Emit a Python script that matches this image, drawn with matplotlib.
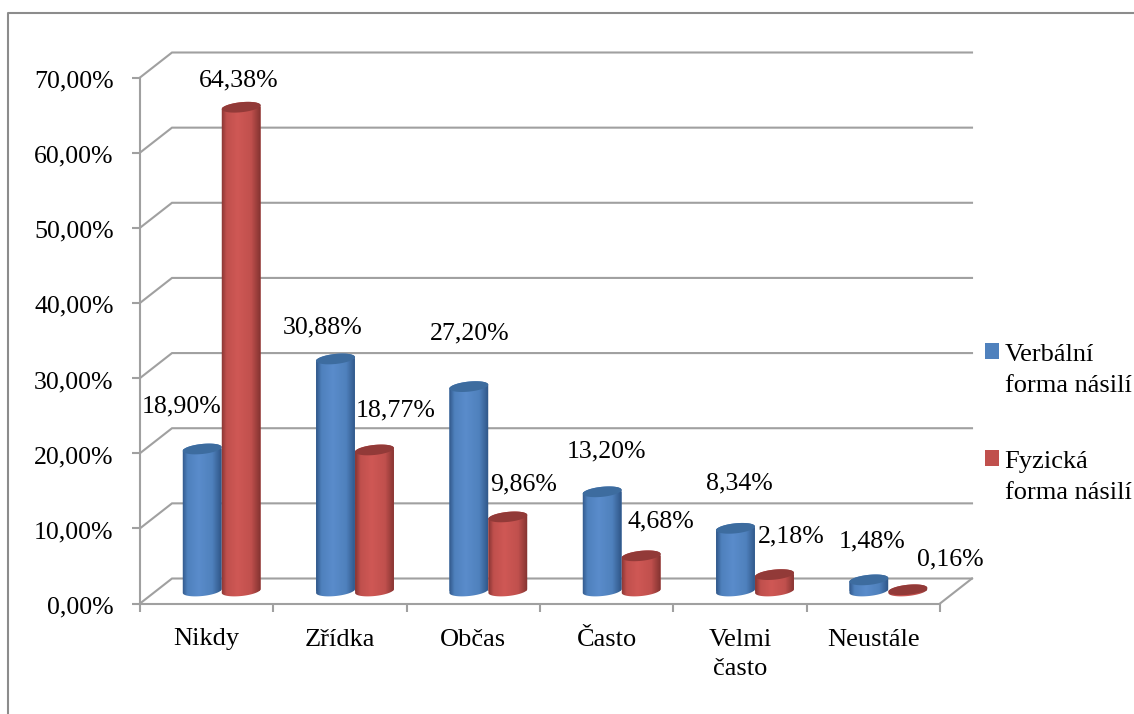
import numpy as np
import matplotlib.pyplot as plt
from matplotlib.colors import LinearSegmentedColormap
from matplotlib.lines import Line2D
from matplotlib.patches import Polygon
from matplotlib.transforms import ScaledTranslation

FONT_SIZE = 18.6
plt.rcParams["font.family"] = ["Liberation Serif", "DejaVu Serif"]
plt.rcParams["font.size"] = FONT_SIZE

categories = ["Nikdy", "Zřídka", "Občas", "Často", "Velmi\nčasto", "Neustále"]
verbal_values = [18.90, 30.88, 27.20, 13.20, 8.34, 1.48]
physical_values = [64.38, 18.77, 9.86, 4.68, 2.18, 0.16]
series_names = ["Verbální\nforma násilí", "Fyzická\nforma násilí"]
y_ticks = [0, 10, 20, 30, 40, 50, 60, 70]

# label shift from the top of each cylinder, in pixels
verbal_shift = [(-21, 43), (-13, 32), (1, 53), (4, 40), (4, 45), (3, 38)]
physical_shift = [(-2, 27), (21, 40), (16, 32), (20, 34), (17, 38), (42, 30)]

W, H = 1134, 714
AX_LEFT, AX_BOTTOM, AX_W, AX_H = 140, 603.5, 800, 526
GRID = "#a0a0a0"
LW = 1.5

fig = plt.figure(figsize=(W / 100, H / 100), dpi=100)
ax = fig.add_axes([AX_LEFT / W, (H - AX_BOTTOM) / H, AX_W / W, AX_H / H])
ax.set_xlim(0, len(categories))
ax.set_ylim(0, 70)

px_x = AX_W / len(categories)
px_y = AX_H / 70
depth_x = 32 / px_x
depth_y = 25 / px_y
bar_w = 39 / px_x
rx, ry, tilt = 19.5, 5.0, np.radians(6)


def pct(v):
    return "{:.2f}%".format(v).replace(".", ",")


def ellipse(cx, cy, t):
    ex = rx * np.cos(t) * np.cos(tilt) - ry * np.sin(t) * np.sin(tilt)
    ey = rx * np.cos(t) * np.sin(tilt) + ry * np.sin(t) * np.cos(tilt)
    return np.column_stack([cx + ex / px_x, cy + ey / px_y])


def draw_series(values, offset, color, dark, bright, cap, name, z):
    xs = np.arange(len(values)) + 0.5 + depth_x / 2 + offset - 1 / px_x
    base_y = depth_y / 2
    cmap = LinearSegmentedColormap.from_list(
        "cyl", [(0, dark), (0.15, color), (0.42, bright), (0.75, color), (1, dark)])
    bars = ax.bar(xs, values, bar_w, bottom=base_y, color=color, label=name, zorder=z)
    for bar, x, v in zip(bars, xs, values):
        top_y = base_y + v
        lower = ellipse(x, base_y, np.linspace(np.pi, 2 * np.pi, 40))
        upper = ellipse(x, top_y, np.linspace(0, np.pi, 40))
        body = Polygon(np.vstack([lower, upper]), closed=True, transform=ax.transData)
        bar.set_clip_path(body)
        img = ax.imshow(np.linspace(0, 1, 64)[None, :], cmap=cmap, aspect="auto",
                        interpolation="bilinear", zorder=z + 0.1,
                        extent=(x - bar_w / 2 - 0.01, x + bar_w / 2 + 0.01,
                                base_y - 2, top_y + 2))
        img.set_clip_path(body)
        ax.add_patch(Polygon(ellipse(x, top_y, np.linspace(0, 2 * np.pi, 80)), closed=True,
                             facecolor=cap, edgecolor="none", zorder=z + 0.2))
    return xs


# back wall, left wall and floor
n = len(categories)
for v in y_ticks:
    ax.plot([0, depth_x, n + depth_x], [v, v + depth_y, v + depth_y], color=GRID,
            lw=LW, clip_on=False, zorder=1, solid_joinstyle="miter")
ax.plot([n, n + depth_x], [0, depth_y], color=GRID, lw=LW, clip_on=False, zorder=1)

x_verbal = draw_series(verbal_values, -bar_w / 2, "#4f81bd", "#2b5080", "#5a8ccb",
                       "#3d6c9f", series_names[0], 3)
x_physical = draw_series(physical_values, bar_w / 2, "#c0504d", "#7b2f2d", "#cf5855",
                         "#923a38", series_names[1], 4)
ax.set_xlim(0, n)
ax.set_ylim(0, 70)

for xs, values, shifts in [(x_verbal, verbal_values, verbal_shift),
                           (x_physical, physical_values, physical_shift)]:
    for x, v, s in zip(xs, values, shifts):
        ax.annotate(pct(v), xy=(x, v + depth_y / 2), xytext=s, textcoords="offset pixels",
                    ha="center", va="center", color="black", zorder=6, annotation_clip=False)

# axes
for side in ["top", "right"]:
    ax.spines[side].set_visible(False)
for side in ["left", "bottom"]:
    ax.spines[side].set_color(GRID)
    ax.spines[side].set_linewidth(LW)
ax.patch.set_visible(False)
ax.set_yticks(y_ticks)
ax.set_yticklabels([pct(v) for v in y_ticks])
ax.set_xticks(np.arange(n + 1))
ax.set_xticklabels([])
ax.set_xticks(np.arange(n) + 0.5, minor=True)
ax.set_xticklabels(categories, minor=True, linespacing=1.45)
ax.tick_params(axis="y", length=6, width=LW, color=GRID, pad=13, labelsize=FONT_SIZE)
ax.tick_params(axis="x", which="major", length=6, width=LW, color=GRID)
ax.tick_params(axis="x", which="minor", length=0, pad=18, labelsize=19)

# tick labels sit slightly under their ticks
nudge = ScaledTranslation(0, -1.5 / 100, fig.dpi_scale_trans)
for label in ax.get_yticklabels():
    label.set_transform(label.get_transform() + nudge)

leg = ax.legend(loc="upper left", bbox_to_anchor=(985 / W, 1 - 344 / H),
                bbox_transform=fig.transFigure, frameon=False, borderaxespad=0, borderpad=0,
                fontsize=19, handlelength=0.54, handleheight=0.54, handletextpad=0.2,
                labelspacing=2.05)
for t in leg.get_texts():
    t.set_linespacing(1.54)
# swatches line up with the first line of each entry
for h in leg.legend_handles:
    h.set_y(h.get_y() + 13.5)

# outer frame, open on the right and at the bottom
fig.add_artist(Line2D([7.5 / W, 7.5 / W, 1], [0, 1 - 13 / H, 1 - 13 / H],
                      color="#8c8c8c", lw=LW, transform=fig.transFigure))

fig.savefig("out.png", dpi=100)
